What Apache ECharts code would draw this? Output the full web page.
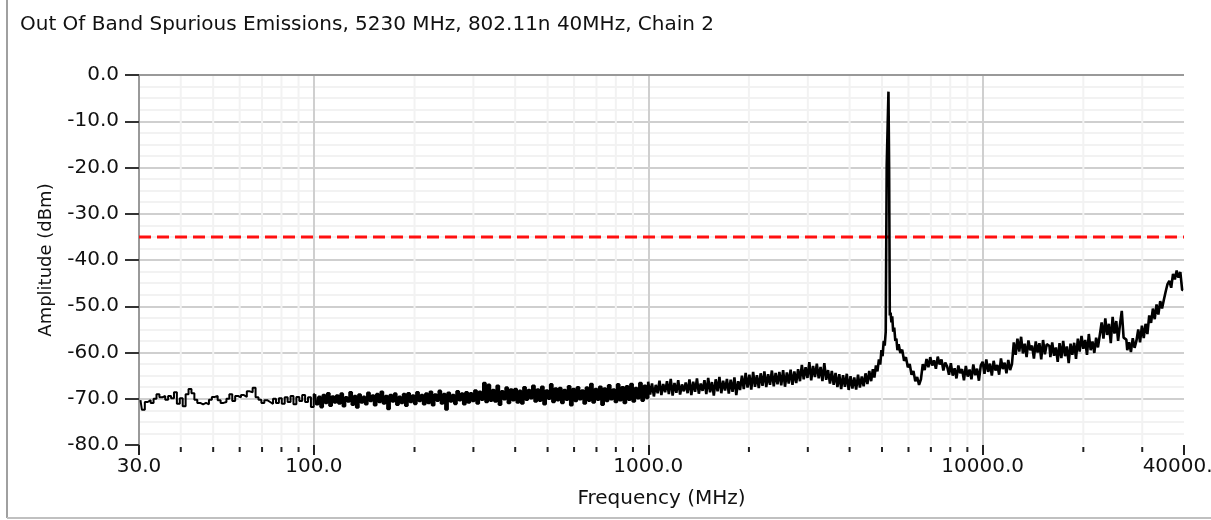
<!DOCTYPE html>
<html>
<head>
<meta charset="utf-8">
<script src="https://cdn.jsdelivr.net/npm/echarts@6/dist/echarts.min.js"></script>
<style>
html,body{margin:0;padding:0;background:#fff;}
#chart{width:1211px;height:520px;}
</style>
</head>
<body>
<div id="chart"></div>
<script>
// ---------------- DATA ----------------
const titleText = 'Out Of Band Spurious Emissions, 5230 MHz, 802.11n 40MHz, Chain 2';
const xAxisName = 'Frequency (MHz)';
const yAxisName = 'Amplitude (dBm)';
const freqMin = 30;
const freqMax = 40000;
const ampMin = -80;
const ampMax = 0;
const ampStep = 10;

// amplitude readings (dBm), spread evenly (log) across each frequency span
const seg30to100 = [
 -70.3,-72.4,-70.7,-70.3,-70.9,-70.0,-69.0,-69.7,-69.4,-70.2,
 -69.4,-69.9,-68.6,-71.1,-69.9,-71.6,-69.0,-67.9,-68.8,-70.2,
 -70.9,-71.2,-70.9,-71.2,-70.2,-69.6,-69.4,-70.3,-70.9,-70.7,
 -70.0,-69.0,-70.5,-69.4,-69.7,-69.2,-69.6,-68.4,-68.6,-67.6,
 -69.7,-70.2,-70.9,-70.3,-70.7,-71.1,-70.0,-70.9,-69.9,-71.1,
 -69.7,-70.7,-69.4,-71.2,-69.6,-70.5,-69.2,-70.7,-69.7,-71.8
];
const seg100to1000 = [
 -69.0,-71.2,-69.6,-71.8,-69.2,-70.9,-68.8,-71.5,-69.5,-70.8,
 -69.3,-71.0,-68.9,-71.6,-69.7,-70.6,-68.6,-71.3,-69.4,-71.9,
 -69.1,-70.8,-69.6,-71.2,-68.7,-70.5,-69.3,-71.4,-69.0,-70.7,
 -68.5,-71.0,-69.4,-72.2,-69.2,-70.6,-68.9,-71.3,-69.6,-70.9,
 -69.0,-71.5,-68.8,-70.7,-69.3,-71.1,-68.6,-70.5,-69.2,-71.2,
 -68.9,-70.9,-68.5,-71.4,-69.1,-70.4,-68.3,-71.0,-69.0,-72.3,
 -68.7,-70.6,-69.2,-71.1,-68.4,-70.3,-68.9,-71.2,-68.6,-70.8,
 -68.8,-70.5,-68.2,-71.0,-68.5,-70.2,-66.6,-70.7,-67.0,-70.4,
 -68.1,-70.6,-67.2,-71.3,-68.4,-70.1,-67.6,-70.9,-68.0,-70.3,
 -67.9,-70.8,-68.3,-71.0,-67.5,-70.2,-68.1,-69.9,-67.2,-70.6,
 -68.0,-70.4,-67.4,-71.2,-68.2,-70.0,-66.9,-70.7,-67.8,-70.3,
 -67.7,-70.9,-68.1,-70.2,-67.3,-71.4,-67.9,-70.5,-67.5,-70.1,
 -68.2,-71.0,-67.6,-70.4,-66.8,-70.8,-67.9,-70.2,-67.4,-71.3,
 -67.8,-70.5,-67.1,-70.1,-68.0,-70.7,-66.9,-70.3,-67.5,-70.9,
 -67.3,-70.2,-66.8,-70.6,-67.7,-69.9,-66.6,-70.4,-67.2,-69.8
];
const seg1000to4700 = [
 -66.3,-69.1,-66.7,-69.5,-67.0,-68.8,-66.1,-69.2,-66.8,-68.6,
 -66.2,-69.0,-65.7,-69.3,-66.6,-68.7,-66.0,-69.1,-66.9,-68.4,
 -66.5,-68.8,-65.8,-69.2,-66.3,-68.5,-65.6,-68.9,-66.7,-68.3,
 -66.0,-69.0,-65.5,-68.6,-66.4,-69.3,-65.8,-68.4,-65.3,-68.8,
 -66.1,-68.2,-65.7,-68.9,-65.9,-68.5,-65.4,-69.2,-66.2,-68.1,
 -65.0,-67.9,-64.4,-67.6,-64.8,-68.0,-64.2,-67.4,-64.9,-67.7,
 -64.5,-67.2,-64.1,-67.5,-64.7,-67.0,-63.9,-67.3,-64.4,-66.9,
 -64.2,-67.1,-63.8,-67.4,-64.3,-66.7,-63.7,-67.0,-64.1,-66.6,
 -63.6,-66.2,-62.7,-65.8,-63.2,-65.5,-62.1,-66.0,-62.9,-65.3,
 -62.4,-65.6,-63.1,-66.2,-62.3,-65.9,-63.8,-66.7,-64.0,-67.0,
 -64.4,-67.5,-64.7,-67.9,-64.9,-67.4,-64.6,-68.1,-65.1,-67.8,
 -65.4,-68.0,-64.8,-67.6,-65.2,-67.3,-64.5,-66.8,-64.0,-66.2
];
const peakFreqs = [4720,4770,4820,4870,4920,4960,5000,5040,5080,5110,5150,5180,5215,5240,5262,5290,5320,5350,5380,5420,5460,5500,5540,5580];
const peakAmps  = [-63.6,-65.4,-62.8,-64.1,-61.5,-62.6,-59.5,-60.8,-57.5,-58.5,-55.5,-19.5,-19.6,-3.6,-19.8,-52.0,-51.4,-53.5,-52.2,-55.5,-54.6,-57.5,-57.0,-59.5];
const seg5600to10000 = [
 -58.2,-60.1,-59.4,-61.8,-61.0,-63.2,-62.5,-64.8,-64.0,-66.2,
 -65.3,-67.0,-65.8,
 -62.5,-63.8,-61.4,-63.2,-61.0,-62.8,-61.7,-63.5,-60.9,-62.6,-61.5,-63.9,-62.2,
 -63.0,-64.8,-62.3,-65.0,-63.4,-65.6,-62.8,-64.5,-63.6,-66.0,-62.9,-65.2,-63.7,-65.8,-62.6,-64.9,-63.5,-66.1,-62.8
];
const seg10000to40000 = [
 -62.0,-64.6,-61.5,-64.2,-62.4,-65.0,-61.8,-63.9,-62.7,-64.8,-61.3,-63.6,-62.2,-64.5,-61.6,-63.8,-62.5,
 -57.8,-60.5,-57.0,-59.8,-56.6,-60.2,-58.1,-61.0,-57.4,-59.5,-58.5,-61.3,-57.6,-60.0,-58.0,-61.5,-57.3,-60.4,-58.2,
 -58.6,-61.0,-57.8,-60.7,-58.9,-62.0,-58.0,-61.2,-57.5,-60.8,-58.7,-62.3,-58.1,-60.5,-57.9,-61.4,
 -57.0,-59.8,-56.4,-59.2,-57.3,-60.5,-56.0,-59.5,-57.6,-60.1,-56.8,-58.9,-56.2,
 -53.5,-57.0,-52.6,-56.2,-53.8,-58.0,-52.3,-55.9,-53.2,-57.5,-54.0,-51.0,-56.8,
 -57.2,-59.5,-57.8,-59.9,-56.9,-59.0,-57.5,
 -55.0,-57.8,-54.2,-56.9,-53.8,-56.0,
 -52.0,-53.6,-50.5,-52.8,-49.6,-51.8,-48.9,-50.5,-48.6,
 -46.8,-45.2,-44.5,-46.0,-43.0,-44.2,-42.3,-43.8,-42.6,-46.5
];
const limitFreqs = [30, 40000];
const limitAmp = -35;
const minorFreqs = [40,50,60,70,80,90,200,300,400,500,600,700,800,900,2000,3000,4000,5000,6000,7000,8000,9000,20000,30000];

// ---------------- BUILD ----------------
function spread(f0, f1, amps) {
  const n = amps.length, out = [];
  for (let i = 0; i < n; i++) {
    out.push([f0 * Math.pow(f1 / f0, (i + 0.5) / n), amps[i]]);
  }
  return out;
}
const traceLow = spread(30, 100, seg30to100);
const traceHigh = [].concat(
  spread(100, 1000, seg100to1000),
  spread(1000, 4700, seg1000to4700),
  peakFreqs.map((f, i) => [f, peakAmps[i]]),
  spread(5600, 10000, seg5600to10000),
  spread(10000, 40000, seg10000to40000)
);
traceLow.push(traceHigh[0]);

const FONT = 'DejaVu Sans';
const FS = 20;
const chart = echarts.init(document.getElementById('chart'), null, {renderer: 'canvas'});
chart.setOption({
  animation: false,
  backgroundColor: '#fff',
  title: {
    text: titleText, left: 15, top: 10,
    textStyle: {fontFamily: FONT, fontSize: FS, fontWeight: 'normal', color: '#111'}
  },
  grid: {left: 139, right: 27, top: 75, bottom: 75, outerBoundsMode: 'none', containLabel: false},
  xAxis: {
    type: 'log', logBase: 10, min: freqMin, max: freqMax,
    name: xAxisName, nameLocation: 'middle', nameGap: 44,
    nameTextStyle: {fontFamily: FONT, fontSize: FS, color: '#111'},
    axisLine: {show: false, onZero: false},
    axisTick: {show: true, length: 10, lineStyle: {color: '#222', width: 2}},
    axisLabel: {margin: 12, fontFamily: FONT, fontSize: FS, color: '#111',
      formatter: v => Number(v).toFixed(1)},
    splitLine: {show: true, showMinLine: false, showMaxLine: false, lineStyle: {color: '#cfcfcf', width: 2}}
  },
  yAxis: {
    type: 'value', min: ampMin, max: ampMax, interval: ampStep,
    name: yAxisName, nameLocation: 'middle', nameGap: 84,
    nameTextStyle: {fontFamily: FONT, fontSize: 18, color: '#111'},
    axisLine: {show: true, onZero: false, lineStyle: {color: '#999', width: 2}},
    axisTick: {show: true, length: 14, lineStyle: {color: '#333', width: 2}},
    axisLabel: {margin: 20, fontFamily: FONT, fontSize: FS, color: '#111',
      formatter: v => Number(v).toFixed(1)},
    splitLine: {show: true, showMinLine: false, showMaxLine: false, lineStyle: {color: '#cfcfcf', width: 2}},
    minorTick: {show: false, splitNumber: 4},
    minorSplitLine: {show: true, lineStyle: {color: '#f2f2f2', width: 2}}
  },
  graphic: [
    {type: 'line', shape: {x1: 7, y1: 0, x2: 7, y2: 518}, style: {stroke: '#a0a0a0', lineWidth: 2}, z: 100},
    {type: 'line', shape: {x1: 7, y1: 518, x2: 1211, y2: 518}, style: {stroke: '#c0c0c0', lineWidth: 2}, z: 100}
  ],
  series: [
    {
      type: 'custom', name: 'minor', z: 1, silent: true, clip: false,
      data: minorFreqs.map(f => [f, ampMin]),
      encode: {x: 0, y: 1},
      renderItem: function (params, api) {
        const f = api.value(0);
        const top = api.coord([f, ampMax]);
        const bot = api.coord([f, ampMin]);
        return {type: 'group', children: [
          {type: 'line', shape: {x1: top[0], y1: top[1], x2: bot[0], y2: bot[1]}, style: {stroke: '#f2f2f2', lineWidth: 2}},
          {type: 'line', shape: {x1: bot[0], y1: bot[1] + 2, x2: bot[0], y2: bot[1] + 7}, style: {stroke: '#222', lineWidth: 2}}
        ]};
      }
    },
    {
      type: 'line', name: 'limit', z: 4, silent: true,
      data: limitFreqs.map(f => [f, limitAmp]),
      showSymbol: false,
      lineStyle: {color: '#ff1010', width: 3, type: [12, 6]},
      markLine: {
        silent: true, symbol: 'none', label: {show: false},
        lineStyle: {color: '#999', width: 2, type: 'solid'},
        data: [{yAxis: ampMax}]
      }
    },
    {
      type: 'line', name: 'traceLow', z: 5, silent: true,
      data: traceLow, showSymbol: false, sampling: null, step: 'middle',
      lineStyle: {color: '#000', width: 2}
    },
    {
      type: 'line', name: 'traceHigh', z: 5, silent: true,
      data: traceHigh, showSymbol: false, sampling: null, step: 'middle',
      lineStyle: {color: '#000', width: 2.6}
    }
  ]
});
</script>
</body>
</html>
